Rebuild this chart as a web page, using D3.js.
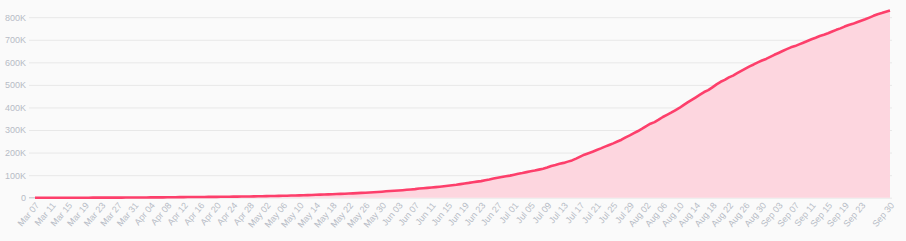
<!DOCTYPE html>
<html>
<head>
<meta charset="utf-8">
<script src="https://cdn.jsdelivr.net/npm/d3@7"></script>
<style>
  html, body { margin: 0; padding: 0; background: #fafafa; }
  svg { display: block; font-family: "Helvetica Neue", "Liberation Sans", Arial, sans-serif; }
</style>
</head>
<body>
<div id="chart"></div>
<script>
// categories: one per day, Mar 07 -> Sep 30
var startDate = new Date(2020, 2, 7);
var endDate = new Date(2020, 8, 30);
var dates = d3.timeDay.range(startDate, d3.timeDay.offset(endDate, 1));

// cumulative count per day
var cases = [
  1, 1, 1, 3, 3, 9, 9, 16, 24, 45, 57, 75, 102, 108, 145, 196, 235, 306, 378, 470, 491, 539, 608, 702, 798,
  906, 1065, 1161, 1267, 1406, 1485, 1579, 1780, 2054, 2223, 2473, 2709, 2776, 2852, 2979, 3105, 3233, 3439, 3621, 3792,
  3977, 4149, 4356, 4561, 4881, 5142, 5379, 5597, 5949, 6207, 6507, 7006, 7285, 7668, 7973, 8613, 8959, 9456, 10051, 10495,
  11063, 11613, 12272, 12930, 13610, 14216, 14939, 15574, 16295, 16935, 17687, 18330, 19131, 20177, 21175, 21981, 23003, 24141, 25366, 26688,
  28236, 29383, 30493, 31833, 33354, 35120, 36635, 38149, 40719, 42078, 43682, 45212, 46858, 48746, 50939, 53063, 54931, 57046, 60217, 63276,
  65633, 68652, 71183, 73572, 77113, 80599, 84660, 88591, 91769, 95043, 97846, 102009, 106110, 109505, 113389, 117110, 120281, 124494, 128638, 133973,
  140776, 145362, 150445, 154277, 159898, 165169, 173206, 182140, 190700, 197278, 204005, 211038, 218428, 226373, 233541, 240795, 248976, 257101, 267385, 276055,
  286020, 295508, 306181, 317651, 327850, 334979, 345714, 357710, 367196, 376870, 387481, 397623, 410453, 422519, 433805, 445111, 456689, 468332, 476660, 489122,
  502178, 513719, 522138, 533103, 541147, 551688, 562113, 572270, 582022, 590520, 599914, 607904, 615094, 624026, 633339, 641574, 650052, 658456, 666521, 671848,
  679513, 686856, 694664, 702088, 708964, 716319, 721892, 728590, 736377, 743945, 750471, 758398, 765076, 770435, 777537, 784268, 790823, 798317, 806038, 813056,
  818203, 824042, 829679
];

var yTicks = [0, 100000, 200000, 300000, 400000, 500000, 600000, 700000, 800000];

var width = 906, height = 241;
var margin = { top: 17.2, right: 16, bottom: 43.3, left: 35 };

var svg = d3.select("#chart")
  .append("svg")
  .attr("width", width)
  .attr("height", height);

var x = d3.scaleLinear()
  .domain([0, dates.length - 1])
  .range([margin.left, width - margin.right]);

var y = d3.scaleLinear()
  .domain([0, 800000])
  .range([height - margin.bottom, margin.top]);

var fmtY = function (d) { return d === 0 ? "0" : (d / 1000) + "K"; };
var fmtX = d3.timeFormat("%b %d");

// grid lines + y labels
var yAxis = svg.append("g")
  .attr("transform", "translate(" + (margin.left - 6) + ",0)")
  .call(d3.axisLeft(y).tickValues(yTicks).tickFormat(fmtY).tickSize(0).tickPadding(3));
yAxis.select(".domain").remove();
yAxis.selectAll(".tick line")
  .attr("x2", width - margin.right + 2 - (margin.left - 6))
  .attr("stroke", "#e8e8e8")
  .attr("stroke-width", 1);
yAxis.selectAll(".tick text")
  .attr("fill", "#b7bcc6")
  .style("font-size", "9px");

// area + line
var area = d3.area()
  .x(function (d, i) { return x(i); })
  .y0(y(0))
  .y1(function (d) { return y(d); });

var line = d3.line()
  .x(function (d, i) { return x(i); })
  .y(function (d) { return y(d); });

svg.append("path")
  .datum(cases)
  .attr("d", area)
  .attr("fill", "#fdd6df");

svg.append("line")
  .attr("x1", margin.left - 6)
  .attr("x2", margin.left)
  .attr("y1", y(0))
  .attr("y2", y(0))
  .attr("stroke", "#c9ccd2");

svg.append("path")
  .datum(cases)
  .attr("d", line)
  .attr("fill", "none")
  .attr("stroke", "#fd3f6b")
  .attr("stroke-width", 2.6)
  .attr("stroke-linejoin", "round");

// x axis labels: every 4th day plus the last one
var xTickIdx = d3.range(0, dates.length - 4, 4).concat([dates.length - 1]);

var xAxis = svg.append("g")
  .attr("transform", "translate(0," + y(0) + ")")
  .call(d3.axisBottom(x).tickValues(xTickIdx).tickSize(0).tickFormat(function (i) { return fmtX(dates[i]); }));
xAxis.select(".domain").remove();
xAxis.selectAll(".tick text")
  .attr("fill", "#b7bcc6")
  .style("font-size", "9px")
  .attr("text-anchor", "end")
  .attr("dx", 0)
  .attr("dy", 0)
  .attr("transform", "translate(2,6) rotate(-50)");
</script>
</body>
</html>
